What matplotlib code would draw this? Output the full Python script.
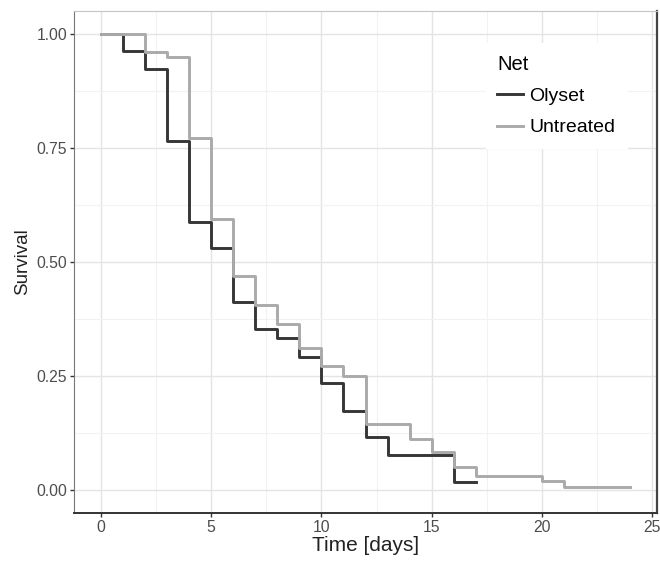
import matplotlib
matplotlib.use("Agg")
from matplotlib import pyplot as plt
from matplotlib.ticker import MultipleLocator

plt.rcParams["font.family"] = ["Liberation Sans", "DejaVu Sans"]

# Kaplan-Meier step curves: event times and survival after each step
olyset_time = [0, 1, 2, 3, 4, 5, 6, 7, 8, 9, 10, 11, 12, 13, 16, 17]
olyset_surv = [1.00, 0.963, 0.923, 0.765, 0.588, 0.531, 0.411, 0.353, 0.333,
               0.292, 0.234, 0.174, 0.116, 0.077, 0.018, 0.018]

untreated_time = [0, 2, 3, 4, 5, 6, 7, 8, 9, 10, 11, 12, 14, 15, 16, 17, 20, 21, 24]
untreated_surv = [1.00, 0.960, 0.950, 0.772, 0.594, 0.469, 0.406, 0.364, 0.312,
                  0.271, 0.250, 0.145, 0.112, 0.083, 0.051, 0.031, 0.020, 0.007, 0.007]

x_ticks = [0, 5, 10, 15, 20, 25]
y_ticks = [0.00, 0.25, 0.50, 0.75, 1.00]


def main() -> None:
    fig = plt.figure(figsize=(6.6, 5.63), dpi=100)
    ax = fig.add_axes([74 / 660, 1 - 512.7 / 563, (656.7 - 74) / 660, (512.7 - 11) / 563])

    ax.set_xlim(-1.225, 25.21)
    ax.set_ylim(-0.0498, 1.050)

    ax.set_xticks(x_ticks)
    ax.set_yticks(y_ticks)
    ax.set_yticklabels([f"{v:.2f}" for v in y_ticks])
    ax.xaxis.set_minor_locator(MultipleLocator(2.5))
    ax.yaxis.set_minor_locator(MultipleLocator(0.125))
    ax.grid(which="major", color="#e4e4e4", linewidth=1.0)
    ax.grid(which="minor", color="#f2f2f2", linewidth=0.8)
    ax.set_axisbelow(True)
    ax.tick_params(which="minor", length=0)
    ax.tick_params(which="major", length=3, width=1, color="#333333",
                   labelcolor="#4d4d4d", labelsize=11.3, pad=2)

    ax.spines["left"].set_color("#777777")
    ax.spines["top"].set_color("#c4c4c4")
    ax.spines["right"].set_color("#444444")
    ax.spines["bottom"].set_color("#333333")
    ax.spines["right"].set_linewidth(1.6)
    ax.spines["bottom"].set_linewidth(1.4)

    ax.step(olyset_time, olyset_surv, where="post", color="#363636", linewidth=2.1, label="Olyset")
    ax.step(untreated_time, untreated_surv, where="post", color="#aaaaaa", linewidth=2.1, label="Untreated")

    ax.set_xlabel("Time [days]", fontsize=15, color="#222222", labelpad=1)
    ax.set_ylabel("Survival", fontsize=13.5, color="#222222", labelpad=4)

    leg = ax.legend(title="Net", loc="upper left", bbox_to_anchor=(0.690, 0.955),
                    frameon=True, fontsize=14, title_fontsize=14.5,
                    handlelength=1.3, handletextpad=0.35, labelspacing=0.7,
                    borderpad=0.6)
    leg.get_frame().set_edgecolor("white")
    leg.get_frame().set_facecolor("white")
    leg.get_frame().set_alpha(1.0)
    leg.get_frame().set_boxstyle("square", pad=0)
    leg._legend_box.align = "left"

    fig.savefig("out.png", dpi=100)


if __name__ == "__main__":
    main()
